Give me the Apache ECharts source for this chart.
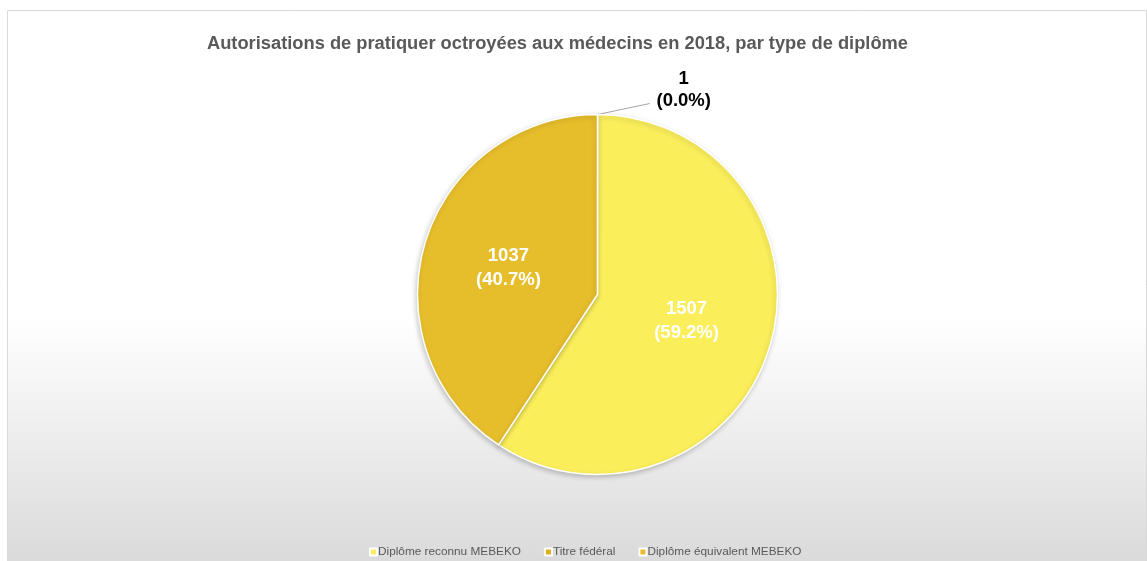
<!DOCTYPE html>
<html>
<head>
<meta charset="utf-8">
<script src="https://cdn.jsdelivr.net/npm/echarts@6/dist/echarts.min.js"></script>
<style>
  html, body { margin: 0; padding: 0; background: #fff; }
  #chart { width: 1147px; height: 561px; }
</style>
</head>
<body>
<div id="chart"></div>
<script>
// data, in drawing order (clockwise from the top)
const categories = ["Titre fédéral", "Diplôme reconnu MEBEKO", "Diplôme équivalent MEBEKO"];
const counts = [1, 1507, 1037];
const colors = ["#E2AE1E", "#FAEE5B", "#E6BD2B"];
const legendOrder = ["Diplôme reconnu MEBEKO", "Titre fédéral", "Diplôme équivalent MEBEKO"];

const total = counts.reduce((a, b) => a + b, 0);
const pct = v => (v / total * 100).toFixed(1) + "%";

const chart = echarts.init(document.getElementById("chart"));

const pieData = categories.map((name, i) => {
  const item = { name: name, value: counts[i], itemStyle: { color: colors[i] } };
  if (counts[i] / total < 0.01) {
    // the tiny slice gets its label outside, with a leader line
    item.label = {
      position: "outside",
      color: "#000",
      padding: [0, 0, 28, 0],
      formatter: p => "{c|" + p.value + "}\n{c|(" + pct(p.value) + ")}",
      rich: {
        c: {
          width: 58,
          align: "center",
          color: "#000",
          fontFamily: "Liberation Sans, Arial, sans-serif",
          fontSize: 18.5,
          fontWeight: "bold",
          lineHeight: 22
        }
      }
    };
  }
  return item;
});

chart.setOption({
  animation: false,
  backgroundColor: "#fff",
  graphic: [
    {
      type: "rect",
      z: -10,
      silent: true,
      shape: { x: 7.5, y: 10.5, width: 1139, height: 560 },
      style: {
        stroke: "#d9d9d9",
        lineWidth: 1,
        fill: new echarts.graphic.LinearGradient(0, 0, 0, 1, [
          { offset: 0, color: "#ffffff" },
          { offset: 0.55, color: "#ffffff" },
          { offset: 1, color: "#d9d9d9" }
        ])
      }
    }
  ],
  title: {
    text: "Autorisations de pratiquer octroyées aux médecins en 2018, par type de diplôme",
    left: 202,
    top: 30,
    textStyle: {
      fontFamily: "Liberation Sans, Arial, sans-serif",
      fontSize: 18.3,
      fontWeight: "bold",
      color: "#595959"
    }
  },
  legend: {
    data: legendOrder,
    left: 364,
    top: 541,
    icon: "rect",
    itemWidth: 7,
    itemHeight: 7,
    itemGap: 23,
    textStyle: {
      fontFamily: "Liberation Sans, Arial, sans-serif",
      fontSize: 11.8,
      color: "#595959",
      padding: [0, 0, 0, -4]
    }
  },
  series: [
    {
      type: "pie",
      center: [597.5, 294.5],
      radius: 180,
      startAngle: 90,
      clockwise: true,
      avoidLabelOverlap: false,
      itemStyle: {
        borderColor: "#fff",
        borderWidth: 1.5,
        shadowBlur: 5,
        shadowOffsetX: -1,
        shadowOffsetY: 2,
        shadowColor: "rgba(0,0,0,0.2)"
      },
      label: {
        show: true,
        position: "inside",
        formatter: p => p.value + "\n(" + pct(p.value) + ")",
        fontFamily: "Liberation Sans, Arial, sans-serif",
        fontSize: 18.5,
        fontWeight: "bold",
        lineHeight: 24,
        color: "#fff"
      },
      labelLine: {
        show: true,
        length: 11,
        length2: 52,
        minTurnAngle: 175,
        lineStyle: { color: "#a6a6a6", width: 1 }
      },
      emphasis: { disabled: true },
      data: pieData
    }
  ]
});
</script>
</body>
</html>
